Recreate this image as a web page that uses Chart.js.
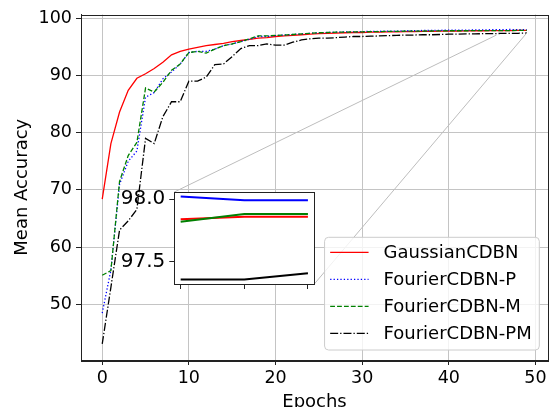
<!DOCTYPE html>
<html lang="en">
<head>
  <meta charset="UTF-8" />
  <title>Mean Accuracy vs Epochs</title>
  <script src="https://cdn.jsdelivr.net/npm/chart.js"></script>
  <style>
    body { margin: 0; background: #fff; }
    #wrap { position: relative; width: 551px; height: 407px; overflow: hidden; }
    #mainChart { position: absolute; left: 0; top: 0; }
    #insetChart { position: absolute; left: 110px; top: 176px; }
  </style>
</head>
<body>
  <div id="wrap">
    <canvas id="mainChart" width="551" height="407"></canvas>
    <canvas id="insetChart" width="210" height="124"></canvas>
  </div>

  <script>
    // data
    const epochs = [0, 1, 2, 3, 4, 5, 6, 7, 8, 9, 10, 11, 12, 13, 14, 15, 16, 17, 18, 19,
      20, 21, 22, 23, 24, 25, 26, 27, 28, 29, 30, 31, 32, 33, 34, 35, 36, 37, 38, 39,
      40, 41, 42, 43, 44, 45, 46, 47, 48, 49];

    const gaussian = [68.4, 78.1, 83.6, 87.4, 89.5, 90.3, 91.2, 92.3, 93.6, 94.2,
      94.6, 94.9, 95.2, 95.4, 95.6, 95.9, 96.1, 96.3, 96.5, 96.6,
      96.8, 96.9, 97.0, 97.1, 97.2, 97.3, 97.35, 97.4, 97.45, 97.5,
      97.5, 97.55, 97.55, 97.6, 97.6, 97.65, 97.65, 97.7, 97.7, 97.72,
      97.74, 97.76, 97.78, 97.8, 97.8, 97.82, 97.83, 97.84, 97.86, 97.86];

    const fourierP = [48.5, 56.0, 71.0, 75.0, 76.8, 86.2, 87.0, 89.4, 90.6, 92.0,
      94.0, 94.2, 94.2, 94.6, 95.2, 95.5, 95.9, 96.3, 96.8, 96.8,
      96.95, 97.05, 97.15, 97.25, 97.35, 97.45, 97.5, 97.55, 97.6, 97.6,
      97.65, 97.7, 97.7, 97.75, 97.75, 97.8, 97.8, 97.85, 97.85, 97.88,
      97.9, 97.9, 97.92, 97.94, 97.96, 97.98, 98.0, 98.02, 97.99, 97.99];

    const fourierM = [55.1, 55.9, 71.5, 76.0, 78.3, 87.8, 87.1, 88.8, 90.9, 92.0,
      94.0, 94.2, 93.9, 94.6, 95.2, 95.5, 95.9, 96.4, 96.9, 96.9,
      97.0, 97.05, 97.15, 97.25, 97.35, 97.45, 97.5, 97.55, 97.55, 97.6,
      97.6, 97.65, 97.65, 97.7, 97.7, 97.72, 97.74, 97.75, 97.76, 97.78,
      97.8, 97.8, 97.8, 97.82, 97.82, 97.83, 97.84, 97.82, 97.88, 97.88];

    const fourierPM = [43.1, 53.0, 63.0, 64.6, 66.6, 79.0, 78.1, 82.8, 85.4, 85.4,
      89.0, 89.0, 89.7, 91.9, 92.0, 93.3, 94.7, 95.2, 95.2, 95.5,
      95.3, 95.3, 95.8, 96.2, 96.4, 96.5, 96.5, 96.6, 96.7, 96.8,
      96.8, 96.85, 96.9, 96.95, 97.0, 97.05, 97.05, 97.1, 97.1, 97.15,
      97.2, 97.2, 97.25, 97.25, 97.3, 97.3, 97.33, 97.36, 97.36, 97.41];

    const xTicks = [0, 10, 20, 30, 40, 50];
    const yTicks = [50, 60, 70, 80, 90, 100];
    const xLimits = [-2.45, 51.45];
    const yLimits = [40.3, 100.64];

    // inset: last three epochs
    const insetCount = 3;
    const insetXTicks = [47, 48, 49];
    const insetYTicks = [97.5, 98.0];
    const insetXLimits = [46.9, 49.1];
    const insetYLimits = [97.324, 98.056];

    // where the two grey connector lines meet the main curves
    const zoomAnchors = [[45.5, 97.05], [49, 97.41]];

    const series = [
      { label: 'GaussianCDBN', values: gaussian, color: '#ff0000', dash: [] },
      { label: 'FourierCDBN-P', values: fourierP, color: '#0000ff', dash: [1.3, 2.1] },
      { label: 'FourierCDBN-M', values: fourierM, color: '#008000', dash: [4.8, 2.1] },
      { label: 'FourierCDBN-PM', values: fourierPM, color: '#000000', dash: [8, 2, 1.3, 2] }
    ];

    Chart.defaults.font.family = "'DejaVu Sans', sans-serif";
    Chart.defaults.color = '#000';
    Chart.defaults.animation = false;

    const setTicks = list => s => { s.ticks = list.map(v => ({ value: v })); };

    const framePlugin = {
      id: 'frame',
      beforeDraw(chart, args, opts) {
        if (!opts.fill) return;
        const { ctx, chartArea: a } = chart;
        ctx.save();
        ctx.fillStyle = '#fff';
        ctx.fillRect(a.left, a.top, a.right - a.left, a.bottom - a.top);
        ctx.restore();
      },
      afterDatasetsDraw(chart) {
        const { ctx, chartArea: a } = chart;
        ctx.save();
        ctx.strokeStyle = '#222';
        ctx.lineWidth = 1;
        ctx.strokeRect(Math.round(a.left) + 0.5, Math.round(a.top) + 0.5,
          Math.round(a.right - a.left), Math.round(a.bottom - a.top));
        ctx.restore();
      }
    };

    // ---------- inset ----------
    const insetEpochs = epochs.slice(-insetCount);
    const insetCanvas = document.getElementById('insetChart');
    const insetChart = new Chart(insetCanvas, {
      type: 'line',
      data: {
        datasets: series.map((s, i) => ({
          label: s.label,
          data: insetEpochs.map((e, j) => ({ x: e, y: s.values[s.values.length - insetCount + j] })),
          borderColor: s.color,
          borderWidth: 2,
          pointRadius: 0,
          order: series.length - i
        }))
      },
      options: {
        responsive: false,
        devicePixelRatio: 1,
        layout: { padding: { top: 10, right: 5.7, left: 0, bottom: 0 } },
        plugins: { legend: { display: false }, tooltip: { enabled: false }, frame: { fill: true } },
        scales: {
          x: {
            type: 'linear', min: insetXLimits[0], max: insetXLimits[1],
            afterBuildTicks: setTicks(insetXTicks),
            afterFit: s => { s.height = 10; },
            ticks: { display: false },
            grid: { drawOnChartArea: false, tickLength: 5, tickColor: '#222' },
            border: { display: false }
          },
          y: {
            type: 'linear', min: insetYLimits[0], max: insetYLimits[1],
            afterBuildTicks: setTicks(insetYTicks),
            afterFit: s => { s.width = 64.3; },
            ticks: { font: { size: 20 }, padding: 4, callback: v => v.toFixed(1) },
            grid: { drawOnChartArea: false, tickLength: 5, tickColor: '#222' },
            border: { display: false }
          }
        }
      },
      plugins: [framePlugin]
    });

    // ---------- connectors + legend on main chart ----------
    const connectorPlugin = {
      id: 'connectors',
      afterDatasetsDraw(chart) {
        const { ctx, scales } = chart;
        const ia = insetChart.chartArea;
        const ox = insetCanvas.offsetLeft, oy = insetCanvas.offsetTop;
        const from = [[ox + ia.left, oy + ia.top], [ox + ia.right, oy + ia.bottom]];
        ctx.save();
        ctx.strokeStyle = '#bdbdbd';
        ctx.lineWidth = 1;
        zoomAnchors.forEach((p, i) => {
          ctx.beginPath();
          ctx.moveTo(from[i][0], from[i][1]);
          ctx.lineTo(scales.x.getPixelForValue(p[0]), scales.y.getPixelForValue(p[1]));
          ctx.stroke();
        });
        ctx.restore();
      }
    };

    const legendPlugin = {
      id: 'legendBox',
      afterDraw(chart) {
        const { ctx, chartArea: a } = chart;
        const sets = chart.data.datasets;
        ctx.save();
        ctx.font = "18px 'DejaVu Sans'";
        const textW = Math.max(...sets.map(d => ctx.measureText(d.label).width));
        const w = 5.6 + 38.4 + 15 + textW + 7.6;
        const h = 15 + 27 * (sets.length - 1) + 16.7;
        const x0 = a.right - 8.7 - w;
        const y0 = a.bottom - 10 - h;
        ctx.beginPath();
        ctx.roundRect(x0, y0, w, h, 4);
        ctx.fillStyle = 'rgba(255,255,255,0.8)';
        ctx.fill();
        ctx.strokeStyle = '#cccccc';
        ctx.lineWidth = 1;
        ctx.stroke();
        sets.forEach((d, i) => {
          const y = y0 + 15 + 27 * i;
          ctx.beginPath();
          ctx.setLineDash(d.borderDash);
          ctx.strokeStyle = d.borderColor;
          ctx.lineWidth = d.borderWidth;
          ctx.moveTo(x0 + 5.6, y);
          ctx.lineTo(x0 + 44, y);
          ctx.stroke();
          ctx.setLineDash([]);
          ctx.fillStyle = '#000';
          ctx.textBaseline = 'middle';
          ctx.fillText(d.label, x0 + 59, y + 1);
        });
        ctx.restore();
      }
    };

    new Chart(document.getElementById('mainChart'), {
      type: 'line',
      data: {
        datasets: series.map((s, i) => ({
          label: s.label,
          data: epochs.map((e, j) => ({ x: e, y: s.values[j] })),
          borderColor: s.color,
          borderWidth: 1.3,
          borderDash: s.dash,
          pointRadius: 0,
          tension: 0,
          order: series.length - i
        }))
      },
      options: {
        responsive: false,
        devicePixelRatio: 1,
        layout: { padding: { top: 12, right: 3, left: 0, bottom: 0 } },
        plugins: { legend: { display: false }, tooltip: { enabled: false } },
        scales: {
          x: {
            type: 'linear', min: xLimits[0], max: xLimits[1],
            afterBuildTicks: setTicks(xTicks),
            afterFit: s => { s.height = 47; },
            ticks: { font: { size: 17.5 }, padding: 3, maxRotation: 0 },
            grid: { color: '#c4c4c4', tickColor: '#222', tickLength: 5 },
            border: { color: '#222' },
            title: { display: true, text: 'Epochs', font: { size: 18 }, padding: { top: 0, bottom: -6 } }
          },
          y: {
            type: 'linear', min: yLimits[0], max: yLimits[1],
            afterBuildTicks: setTicks(yTicks),
            afterFit: s => { s.width = 81; },
            ticks: { font: { size: 17.5 }, padding: 4 },
            grid: { color: '#c4c4c4', tickColor: '#222', tickLength: 5 },
            border: { color: '#222' },
            title: { display: true, text: 'Mean Accuracy', font: { size: 18 }, padding: { top: 12, bottom: 0 } }
          }
        }
      },
      plugins: [framePlugin, connectorPlugin, legendPlugin]
    });
  </script>
</body>
</html>
